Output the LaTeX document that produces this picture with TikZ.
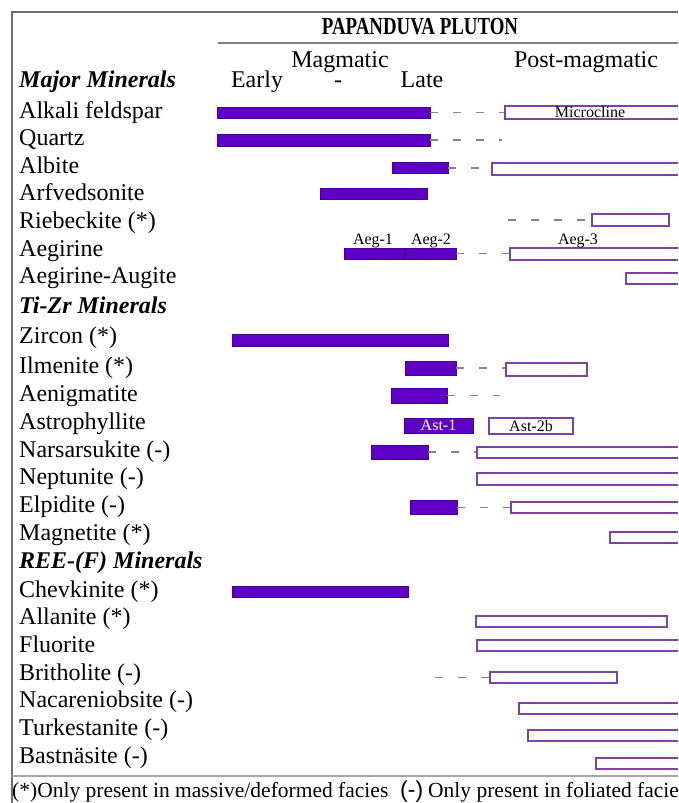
\documentclass[tikz,border=0pt]{standalone}
\usepackage{fontspec}
\usepackage{graphicx}
\usepackage{tikz}
\setmainfont{Liberation Serif}
\newfontfamily\footsans{Liberation Sans}

\definecolor{magfill}{RGB}{94,0,198}
\definecolor{magedge}{RGB}{70,0,150}
\definecolor{postedge}{RGB}{126,66,160}
\definecolor{framegray}{RGB}{110,110,110}

\tikzset{
  magbar/.style={fill=magfill, draw=magedge, line width=0.6pt},
  postbar/.style={draw=postedge, line width=1.6pt, fill=white},
  gapline/.style={draw=gray!95, line width=1.4pt, dash pattern=on 8pt off 15pt},
  mineral/.style={anchor=base west, inner sep=0pt, font=\fontsize{24}{28}\selectfont},
  mingroup/.style={anchor=base west, inner sep=0pt, font=\fontsize{24}{28}\selectfont\bfseries\itshape},
  phase/.style={anchor=base, inner sep=0pt, font=\fontsize{24}{28}\selectfont},
  barlabel/.style={inner sep=0pt, font=\fontsize{16}{18}\selectfont},
}
% open-ended post-magmatic bar running off the right edge
\newcommand{\openbar}[3]{\draw[postbar] (678,#2) -- (#1,#2) -- (#1,#3) -- (678,#3);}

\begin{document}
\begin{tikzpicture}[x=1pt,y=-1pt]
\useasboundingbox (0,0) rectangle (678,803);

% frame and header
\draw[framegray, line width=1.5pt] (12,803) -- (12,12) -- (678,12);
\draw[gray, line width=1.5pt] (218,43) -- (678,43);
\draw[gray!70, line width=1.5pt] (12,776) -- (678,776);

\node[anchor=base, inner sep=0pt] (pluton) at (420,34)
  {\scalebox{0.77}[1]{\fontsize{24.5}{28}\selectfont\bfseries PAPANDUVA PLUTON}};
\node[phase] (magm) at (340,67) {Magmatic};
\node[phase] (post) at (586,67) {Post-magmatic};
\node[phase] (early) at (257,87) {Early};
\node[phase] (dash) at (338,87) {-};
\node[phase] (late) at (422,87) {Late};

%-------------------------------------
% mineral names
\node[mingroup] (major) at (19,87) {Major Minerals};
\node[mineral] (afs) at (19,118) {Alkali feldspar};
\node[mineral] (qtz) at (19,145) {Quartz};
\node[mineral] (ab) at (19,173) {Albite};
\node[mineral] (arf) at (19,200) {Arfvedsonite};
\node[mineral] (rbk) at (19,228) {Riebeckite (*)};
\node[mineral] (aeg) at (19,256) {Aegirine};
\node[mineral] (aug) at (19,283) {Aegirine-Augite};
\node[mingroup] (tizr) at (19,313) {Ti-Zr Minerals};
\node[mineral] (zrn) at (19,343) {Zircon (*)};
\node[mineral] (ilm) at (19,373) {Ilmenite (*)};
\node[mineral] (aen) at (19,401) {Aenigmatite};
\node[mineral] (ast) at (19,429) {Astrophyllite};
\node[mineral] (nrs) at (19,457) {Narsarsukite (-)};
\node[mineral] (nep) at (19,484) {Neptunite (-)};
\node[mineral] (elp) at (19,512) {Elpidite (-)};
\node[mineral] (mag) at (19,540) {Magnetite (*)};
\node[mingroup] (ree) at (19,568) {REE-(F) Minerals};
\node[mineral] (chv) at (19,597) {Chevkinite (*)};
\node[mineral] (aln) at (19,624) {Allanite (*)};
\node[mineral] (fl) at (19,652) {Fluorite};
\node[mineral] (bri) at (19,680) {Britholite (-)};
\node[mineral] (nac) at (19,707) {Nacareniobsite (-)};
\node[mineral] (tur) at (19,735) {Turkestanite (-)};
\node[mineral] (bas) at (19,763) {Bastnäsite (-)};

%-------------------------------------
% magmatic and post-magmatic bars
\draw[magbar] (217,107) rectangle (430,118);
\draw[gapline] (430,112.5) -- (505,112.5);
\openbar{505}{106}{119}
\node[barlabel] (mc) at (590,112.5) {Microcline};

\draw[magbar] (217,134) rectangle (430,146);
\draw[gapline] (430,140) -- (502,140);

\draw[magbar] (392,162) rectangle (448,173);
\draw[gapline] (448,168) -- (492,168);
\openbar{492}{163}{175}

\draw[magbar] (320,188) rectangle (427,199);

\draw[gapline] (508,220) -- (592,220);
\draw[postbar] (592,214) rectangle (669,226);

\draw[magbar] (344,248) rectangle (404,259);
\draw[magbar] (405.5,248) rectangle (456,259);
\draw[gapline] (456,253.5) -- (510,253.5);
\openbar{510}{248}{260}
\node[barlabel, anchor=base] (aeg1) at (373,244) {Aeg-1};
\node[barlabel, anchor=base] (aeg2) at (431,244) {Aeg-2};
\node[barlabel, anchor=base] (aeg3) at (578,244) {Aeg-3};

\openbar{626}{273}{284}

\draw[magbar] (232,334) rectangle (448,346);

\draw[magbar] (405,361) rectangle (456,375);
\draw[gapline] (456,368) -- (506,368);
\draw[postbar] (506,363) rectangle (587,376);

\draw[magbar] (391,388) rectangle (447,403);
\draw[gapline] (447,395.5) -- (500,395.5);

\draw[magbar] (404,418) rectangle (473,433);
\node[barlabel, text=white] (ast1) at (438.5,425.5) {Ast-1};
\draw[postbar] (489,418) rectangle (573,434);
\node[barlabel] (ast2) at (531,426) {Ast-2b};

\draw[magbar] (371,445) rectangle (428,459);
\draw[gapline] (428,452) -- (477,452);
\openbar{477}{447}{458}

\openbar{477}{473}{485}

\draw[magbar] (410,500) rectangle (457,514);
\draw[gapline] (457,507.5) -- (511,507.5);
\openbar{511}{502}{513}

\openbar{610}{532}{543}

\draw[magbar] (232,586) rectangle (408,597);

\draw[postbar] (476,616) rectangle (667,627);

\openbar{477}{640}{651}

\draw[gapline] (435,677.5) -- (490,677.5);
\draw[postbar] (490,672) rectangle (617,683);

\openbar{519}{703}{714}

\openbar{528}{730}{741}

\openbar{596}{758}{769}

%-------------------------------------
% footnote
\node[anchor=base west, inner sep=0pt, font=\fontsize{21.5}{24}\selectfont] (note1) at (12,797)
  {(*)Only present in massive/deformed facies};
\node[anchor=base west, inner sep=0pt, font=\fontsize{23}{26}\footsans] (note2) at (400,797) {(-)};
\node[anchor=base west, inner sep=0pt, font=\fontsize{21.5}{24}\selectfont] (note3) at (428,797)
  {Only present in foliated facies};
\end{tikzpicture}
\end{document}
